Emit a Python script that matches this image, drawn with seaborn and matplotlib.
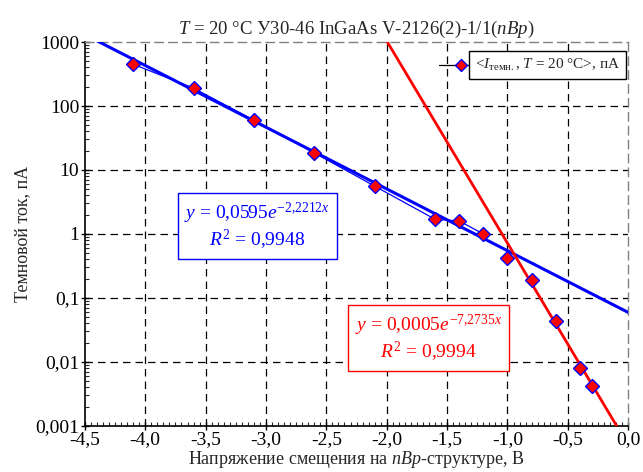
import matplotlib
matplotlib.use('Agg')
import matplotlib.pyplot as plt
import matplotlib.ticker as mticker
import numpy as np
import pandas as pd
import seaborn as sns

bias_v = [-4.1, -3.6, -3.1, -2.6, -2.1, -1.6, -1.4, -1.2, -1.0, -0.8, -0.6, -0.4, -0.3]
dark_pa = [450, 190, 60, 18.5, 5.6, 1.7, 1.6, 1.0, 0.42, 0.19, 0.044, 0.0081, 0.0042]
n_joined = 8  # points joined by the thin line

# Exponential trendlines shown on the chart
blue_a, blue_b = 0.0595, -2.2212
red_a, red_b = 0.0005, -7.2735
blue_span = [-4.5, 0.0]
red_span = [-2.1, 0.0]

x_ticks = [-4.5, -4.0, -3.5, -3.0, -2.5, -2.0, -1.5, -1.0, -0.5, 0.0]
y_ticks = [0.001, 0.01, 0.1, 1, 10, 100, 1000]
y_tick_labels = ['0,001', '0,01', '0,1', '1', '10', '100', '1000']

sns.set_style('ticks')
plt.rcParams['font.family'] = ['Liberation Serif', 'DejaVu Serif']
plt.rcParams['mathtext.fontset'] = 'custom'
plt.rcParams['mathtext.rm'] = 'Liberation Serif'
plt.rcParams['mathtext.it'] = 'Liberation Serif:italic'

df = pd.DataFrame({'v': bias_v, 'i': dark_pa})
blue_df = pd.DataFrame({'v': blue_span})
blue_df['i'] = blue_a * np.exp(blue_b * blue_df['v'])
red_df = pd.DataFrame({'v': red_span})
red_df['i'] = red_a * np.exp(red_b * red_df['v'])

fig = plt.figure(figsize=(6.43, 4.72), dpi=100)
ax = fig.add_axes([0.132, 0.0975, 0.845, 0.8135])
ax.set_yscale('log')

# grid
for xv in x_ticks[1:-1]:
    ax.axvline(xv, color='black', lw=0.9, ls=(0, (6, 4)), zorder=0)
for yv in y_ticks[1:-1]:
    ax.axhline(yv, color='black', lw=0.9, ls=(0, (6, 4)), zorder=0)

sns.lineplot(data=df.iloc[:n_joined], x='v', y='i', ax=ax, color='blue', lw=0.9,
             sort=False, zorder=2)
sns.lineplot(data=blue_df, x='v', y='i', ax=ax, color='blue', lw=2.2, zorder=3)
sns.lineplot(data=red_df, x='v', y='i', ax=ax, color='red', lw=2.0, zorder=3)
ax.plot(df['v'], df['i'], ls='none', marker='D', ms=7, mfc='red', mec='blue',
        mew=1.0, zorder=4)

ax.set_xlim(-4.5, 0.0)
ax.set_ylim(0.001, 1000)
ax.set_xticks(x_ticks)
ax.set_xticklabels([('%.1f' % v).replace('.', ',') for v in x_ticks])
ax.xaxis.set_minor_locator(mticker.MultipleLocator(0.05))
ax.set_yticks(y_ticks)
ax.set_yticklabels(y_tick_labels)
ax.yaxis.set_minor_locator(mticker.LogLocator(base=10, subs=np.arange(2, 10), numticks=20))
ax.yaxis.set_minor_formatter(mticker.NullFormatter())
ax.tick_params(axis='both', which='major', labelsize=14, direction='inout',
               length=6, width=1, colors='black', pad=1)
ax.tick_params(axis='both', which='minor', direction='in', length=3, width=0.8)

for side in ['left', 'bottom']:
    ax.spines[side].set_color('black')
    ax.spines[side].set_linewidth(1.2)
for side in ['top', 'right']:
    ax.spines[side].set_color('gray')
    ax.spines[side].set_linestyle((0, (6, 4)))
    ax.spines[side].set_linewidth(1.0)

ax.set_title(r'$T$ = 20 °C У30-46 InGaAs V-2126(2)-1/1($nBp$)', fontsize=13.5, pad=6)
ax.set_xlabel(r'Напряжение смещения на $nBp$-структуре, В', fontsize=13, labelpad=0)
ax.set_ylabel('Темновой ток, пА', fontsize=13, labelpad=3)

# trendline labels
ax.text(0.183, 0.52, '$y$ = 0,0595$e^{-2{,}2212x}$\n$R^2$ = 0,9948',
        transform=ax.transAxes, ha='left', va='center', fontsize=14,
        color='blue', linespacing=1.1, multialignment='center',
        bbox=dict(boxstyle='square,pad=0.35', fc='white', ec='blue', lw=1))
ax.text(0.497, 0.228, '$y$ = 0,0005$e^{-7{,}2735x}$\n$R^2$ = 0,9994',
        transform=ax.transAxes, ha='left', va='center', fontsize=14,
        color='red', linespacing=1.1, multialignment='center',
        bbox=dict(boxstyle='square,pad=0.35', fc='white', ec='red', lw=1))

# legend
ax.plot([0.651, 0.712], [0.94, 0.94], transform=ax.transAxes, color='black',
        lw=0.9, clip_on=False, zorder=5)
ax.plot([0.692], [0.94], transform=ax.transAxes, ls='none', marker='D', ms=6,
        mfc='red', mec='blue', mew=1.0, zorder=6)
ax.text(0.718, 0.94, r'<$I_{\rm темн.}$, $T$ = 20 °C>, пА',
        transform=ax.transAxes, ha='left', va='center', fontsize=11,
        bbox=dict(boxstyle='square,pad=0.4', fc='white', ec='black', lw=1), zorder=5)

fig.savefig('out.png', dpi=100)
